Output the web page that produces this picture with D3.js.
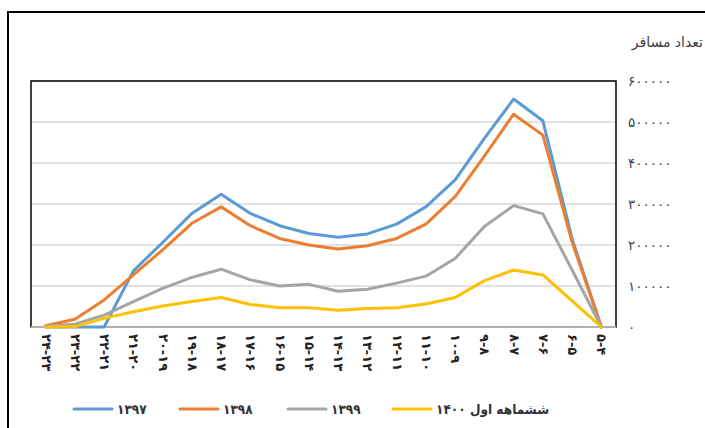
<!DOCTYPE html>
<html><head><meta charset="utf-8">
<script src="https://cdn.jsdelivr.net/npm/d3@7"></script>
<style>
html,body{margin:0;padding:0;background:#fff;}
svg{display:block;font-family:"DejaVu Sans",sans-serif;}
</style></head>
<body>
<svg id="c" width="705" height="428"></svg>
<script>
const categories = ["۲۴-۲۳","۲۳-۲۲","۲۲-۲۱","۲۱-۲۰","۲۰-۱۹","۱۹-۱۸","۱۸-۱۷","۱۷-۱۶","۱۶-۱۵","۱۵-۱۴","۱۴-۱۳","۱۳-۱۲","۱۲-۱۱","۱۱-۱۰","۱۰-۹","۹-۸","۸-۷","۷-۶","۶-۵","۵-۴"];
const s1397 = [0,0,0,137000,206000,277000,324000,277000,247000,228000,219000,227000,251000,293000,359000,460000,556000,503000,215000,0];
const s1398 = [3000,19000,66000,127000,188000,253000,293000,247000,216000,200000,190000,198000,216000,251000,318000,417000,519000,468000,207000,0];
const s1399 = [2000,7000,29000,62000,94000,121000,141000,115000,100000,104000,87000,92000,107000,124000,167000,245000,296000,276000,139000,0];
const s1400 = [0,1000,21000,37000,51000,62000,72000,55000,47000,47000,41000,45000,47000,56000,72000,113000,139000,127000,64000,0];
const seriesNames = ["۱۳۹۷","۱۳۹۸","۱۳۹۹","ششماهه اول ۱۴۰۰"];
const seriesColors = ["#5B9BD5","#ED7D31","#A5A5A5","#FFC000"];
const yTicks = [0,100000,200000,300000,400000,500000,600000];
const yTickLabels = ["۰","۱۰۰۰۰۰","۲۰۰۰۰۰","۳۰۰۰۰۰","۴۰۰۰۰۰","۵۰۰۰۰۰","۶۰۰۰۰۰"];
const yTitle = "تعداد مسافر";

const svg = d3.select("#c");
const L = 31, R = 616, T = 81, B = 327;

// outer chart border
svg.append("rect").attr("x",8).attr("y",12).attr("width",720).attr("height",440)
  .attr("fill","none").attr("stroke","#000").attr("stroke-width",2);

const x = d3.scalePoint().domain(categories).range([L,R]).padding(0.5);
const y = d3.scaleLinear().domain([0,600000]).range([B,T]);

// gridlines
svg.append("g").selectAll("line").data(yTicks).join("line")
  .attr("x1",L).attr("x2",R).attr("y1",d=>y(d)).attr("y2",d=>y(d))
  .attr("stroke","#d9d9d9").attr("stroke-width",1.3);

// plot area border
svg.append("rect").attr("x",L).attr("y",T).attr("width",R-L).attr("height",B-T)
  .attr("fill","none").attr("stroke","#000").attr("stroke-width",1.5);
svg.append("line").attr("x1",L).attr("x2",R).attr("y1",B).attr("y2",B)
  .attr("stroke","#d9d9d9").attr("stroke-width",1.5);

// right y-axis
const yAxis = d3.axisRight(y).tickValues(yTicks).tickSize(0).tickPadding(0)
  .tickFormat((d,i)=>yTickLabels[i]);
const ya = svg.append("g").attr("transform",`translate(628,0)`).call(yAxis);
ya.select(".domain").remove();
ya.selectAll("text").attr("font-family","DejaVu Sans").attr("font-size",13.5).attr("fill","#404040")
  .attr("direction","ltr");

// y title
svg.append("text").attr("x",703).attr("y",47).attr("text-anchor","end")
  .attr("font-family","DejaVu Sans")
  .attr("font-size",14).attr("fill","#404040").text(yTitle);

// x-axis labels
const xAxis = d3.axisBottom(x).tickSize(0).tickPadding(0);
const xa = svg.append("g").attr("transform",`translate(0,${B})`).call(xAxis);
xa.select(".domain").remove();
xa.selectAll("text")
  .attr("font-family","DejaVu Sans").attr("font-size",13).attr("font-weight","bold").attr("fill","#222")
  .attr("direction","ltr")
  .attr("text-anchor","start").attr("dy","0.35em")
  .attr("transform","translate(0,7) rotate(90)")
  .attr("x",0).attr("y",0);

// lines
const all = [s1397,s1398,s1399,s1400];
const line = d3.line().x((d,i)=>x(categories[i])).y(d=>y(d));
all.forEach((s,k)=>{
  svg.append("path").datum(s).attr("d",line).attr("fill","none")
    .attr("stroke",seriesColors[k]).attr("stroke-width",3)
    .attr("stroke-linejoin","round").attr("stroke-linecap","round");
});

// legend
const legX = [74,180,288,393];
const lg = svg.append("g");
seriesNames.forEach((n,k)=>{
  lg.append("line").attr("x1",legX[k]).attr("x2",legX[k]+38).attr("y1",409).attr("y2",409)
    .attr("stroke",seriesColors[k]).attr("stroke-width",3).attr("stroke-linecap","round");
  lg.append("text").attr("x",legX[k]+43).attr("y",414).attr("font-size",13.5).attr("font-weight","bold")
    .attr("font-family","DejaVu Sans Condensed")
    .attr("fill","#333").attr("text-anchor","start").attr("direction","ltr").attr("unicode-bidi","plaintext")
    .text(n);
});
</script>
</body></html>
